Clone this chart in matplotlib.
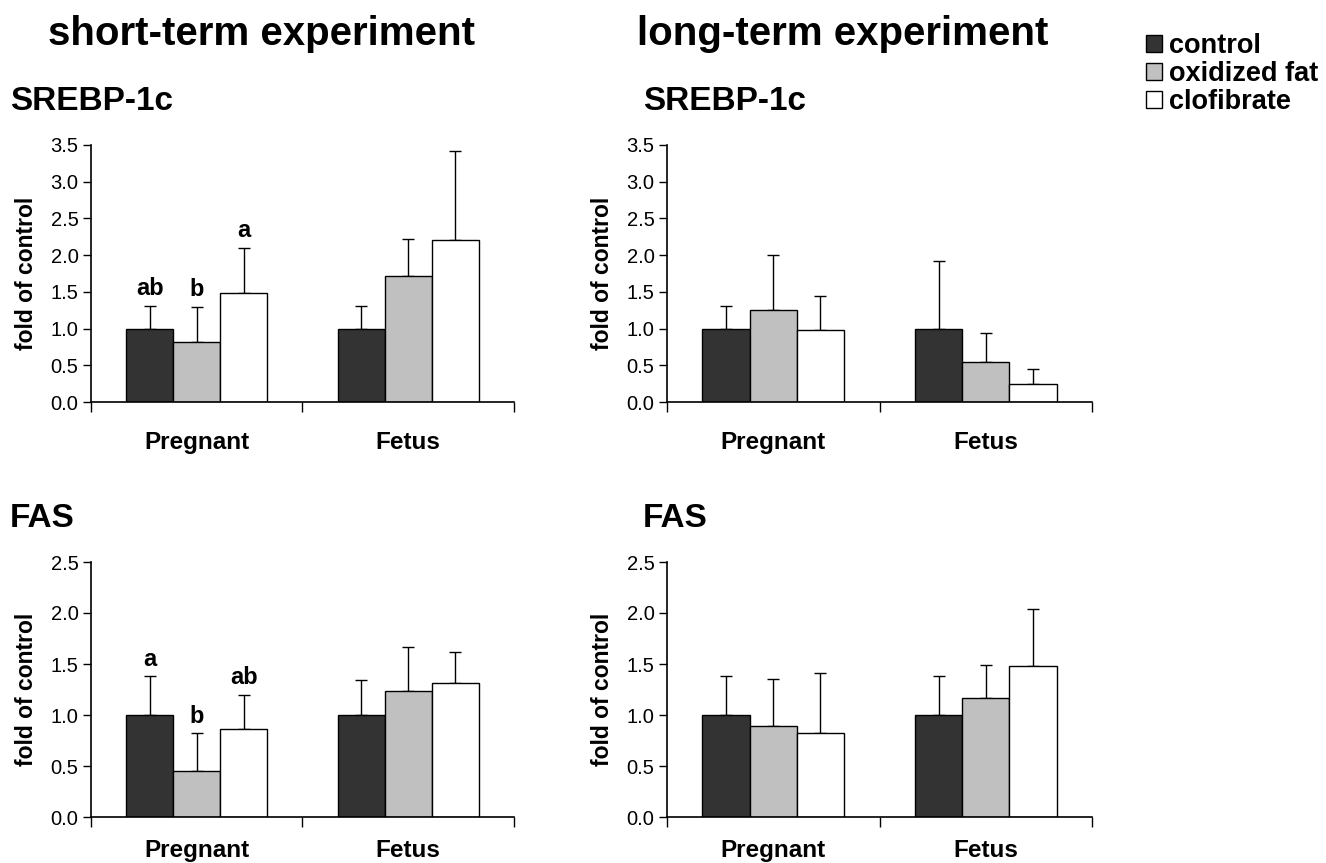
import matplotlib
matplotlib.use("Agg")
import matplotlib.pyplot as plt
from matplotlib.patches import Patch
import numpy as np

plt.rcParams['font.family'] = ['Liberation Sans', 'DejaVu Sans']

categories = ["Pregnant", "Fetus"]
groups = ["control", "oxidized fat", "clofibrate"]
colors = ["#333333", "#c0c0c0", "#ffffff"]

# values[group][category]
st_srebp = [[1.00, 1.00], [0.82, 1.71], [1.49, 2.20]]
st_srebp_err = [[0.31, 0.31], [0.48, 0.51], [0.61, 1.22]]
st_srebp_letters = [["ab", ""], ["b", ""], ["a", ""]]

lt_srebp = [[1.00, 1.00], [1.25, 0.55], [0.98, 0.25]]
lt_srebp_err = [[0.31, 0.92], [0.75, 0.39], [0.47, 0.20]]

st_fas = [[1.00, 1.00], [0.45, 1.24], [0.86, 1.31]]
st_fas_err = [[0.38, 0.34], [0.37, 0.43], [0.34, 0.31]]
st_fas_letters = [["a", ""], ["b", ""], ["ab", ""]]

lt_fas = [[1.00, 1.00], [0.89, 1.17], [0.82, 1.48]]
lt_fas_err = [[0.38, 0.38], [0.46, 0.32], [0.59, 0.56]]

W, H = 1326, 863
fig = plt.figure(figsize=(W / 100, H / 100), dpi=100)


def rect(x0, x1, ytop, ybot):
    return [x0 / W, 1 - ybot / H, (x1 - x0) / W, (ybot - ytop) / H]


def panel(r, vals, errs, ymax, letters=None, catpad=16):
    ax = fig.add_axes(r)
    bw = 2 / 9
    centers = np.arange(len(categories)) + 0.5
    for gi in range(len(groups)):
        x = centers + (gi - 1) * bw
        ax.bar(x, vals[gi], width=bw, color=colors[gi], edgecolor="black",
               linewidth=1.0, zorder=2)
        ax.errorbar(x, vals[gi], yerr=[np.zeros(len(x)), errs[gi]], fmt="none",
                    ecolor="black", elinewidth=1.0, capsize=4.5, capthick=1.0,
                    zorder=1)
        if letters is not None:
            for ci in range(len(categories)):
                if letters[gi][ci]:
                    ax.annotate(letters[gi][ci], (x[ci], vals[gi][ci] + errs[gi][ci]),
                                xytext=(0, 4), textcoords="offset points",
                                ha="center", va="bottom", fontsize=17,
                                fontweight="bold")
    ax.set_xlim(0, len(categories))
    ax.set_ylim(0, ymax)
    ax.set_yticks(np.arange(0, ymax + 0.01, 0.5))
    ax.set_yticklabels([f"{v:.1f}" for v in np.arange(0, ymax + 0.01, 0.5)],
                       fontsize=14.5)
    ax.set_xticks(np.arange(len(categories) + 1))
    ax.set_xticklabels([])
    ax.set_xticks(centers, minor=True)
    ax.set_xticklabels(categories, minor=True, fontsize=17.5, fontweight="bold")
    ax.tick_params(axis="x", which="major", length=7, width=1.0, direction="out")
    ax.tick_params(axis="x", which="minor", length=0, pad=catpad)
    ax.tick_params(axis="y", length=6, width=1.0, direction="out", pad=3)
    for s in ["top", "right"]:
        ax.spines[s].set_visible(False)
    for s in ["left", "bottom"]:
        ax.spines[s].set_linewidth(1.2)
    ax.set_ylabel("fold of control", fontsize=16.5, fontweight="bold", labelpad=9)
    return ax


panel(rect(91, 514, 145, 402), st_srebp, st_srebp_err, 3.5, st_srebp_letters, catpad=21)
panel(rect(667, 1092, 145, 402), lt_srebp, lt_srebp_err, 3.5, catpad=21)
panel(rect(91, 514, 562, 817), st_fas, st_fas_err, 2.5, st_fas_letters, catpad=16)
panel(rect(667, 1092, 562, 817), lt_fas, lt_fas_err, 2.5, catpad=16)

fig.text(261 / W, 1 - 34 / H, "short-term experiment", fontsize=29,
         fontweight="bold", ha="center", va="center")
fig.text(843 / W, 1 - 34 / H, "long-term experiment", fontsize=29,
         fontweight="bold", ha="center", va="center")
for xp in [10, 643]:
    fig.text(xp / W, 1 - 101 / H, "SREBP-1c", fontsize=24, fontweight="bold",
             ha="left", va="center")
    fig.text(xp / W, 1 - 518 / H, "FAS", fontsize=24, fontweight="bold",
             ha="left", va="center")

handles = [Patch(facecolor=c, edgecolor="black", linewidth=1.0) for c in colors]
fig.legend(handles, groups, loc="upper left", bbox_to_anchor=(1146 / W, 1 - 33 / H),
           frameon=False, prop={"size": 19.5, "weight": "bold"},
           handlelength=0.6, handleheight=0.6, handletextpad=0.25,
           labelspacing=0.08, borderpad=0, borderaxespad=0)

fig.savefig("out.png", dpi=100)
